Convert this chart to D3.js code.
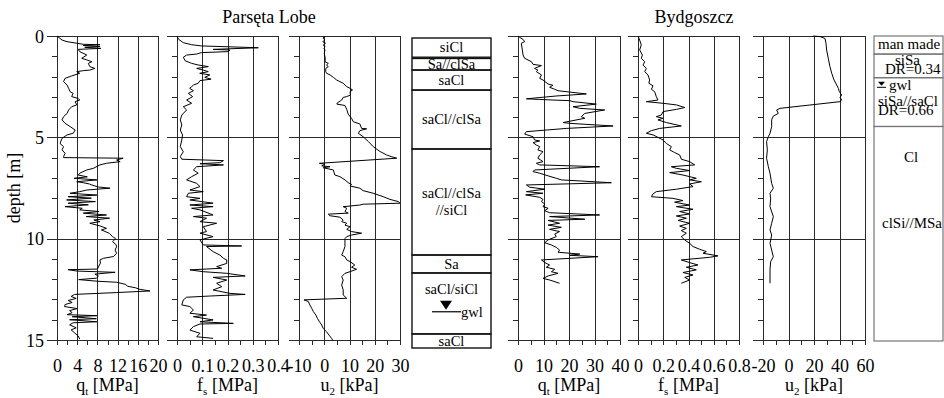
<!DOCTYPE html>
<html>
<head>
<meta charset="utf-8">
<script src="https://cdn.jsdelivr.net/npm/d3@7"></script>
<style>
  body { margin: 0; background: #fff; }
  svg { display: block; font-family: "Liberation Serif", "Times New Roman", serif; }
</style>
</head>
<body>
<svg id="chart" width="944" height="398"></svg>
<script>
// ---------- CPTU soundings: [depth m, value] ----------
const parsetaQt = [
  [0,0],[0.2,1.0],[0.28,2.0],[0.36,4.0],[0.41,5.2],[0.43,8.5],[0.47,5.2],[0.52,8.5],[0.56,5.5],[0.61,8.7],[0.66,4.2],
  [0.77,4.5],[0.94,5.9],[1.1,4.9],[1.18,5.9],[1.27,6.9],[1.35,6.2],[1.51,6.5],[1.6,7.5],[1.68,6.5],[1.71,5.2],[1.76,3.9],
  [1.84,4.5],[1.97,2.9],[2.09,1.6],[2.25,1.3],[2.42,2.0],[2.58,2.3],[2.75,2.6],[2.83,3.2],[2.99,2.9],[3.08,4.2],[3.16,4.5],
  [3.24,3.6],[3.4,3.9],[3.49,2.9],[3.65,2.3],[3.82,2.0],[3.98,1.3],[4.14,1.0],[4.31,1.6],[4.47,2.6],[4.64,3.6],[4.8,3.2],
  [4.88,2.0],[5.05,1.0],[5.3,0.6],[5.46,1.3],[5.62,1.0],[5.79,1.6],[5.95,1.3],[6.0,1.3],[6.03,13.1],[6.12,11.8],[6.2,12.5],
  [6.28,9.8],[6.36,8.5],[6.53,7.2],[6.61,5.9],[6.77,4.5],[6.86,4.2],[6.95,6.0],[7.02,3.4],[7.1,7.9],[7.19,3.9],[7.24,5.2],
  [7.3,6.4],[7.35,6.9],[7.45,8.2],[7.51,10.5],[7.6,5.9],[7.68,4.5],[7.76,2.6],[7.85,7.9],[7.93,2.2],[8.0,6.8],[8.09,1.9],
  [8.17,7.6],[8.25,2.2],[8.33,6.2],[8.42,1.6],[8.5,5.0],[8.58,4.5],[8.66,8.3],[8.74,5.2],[8.83,9.8],[8.91,5.8],[8.99,10.4],
  [9.08,7.3],[9.16,8.5],[9.24,6.5],[9.37,8.5],[9.49,9.8],[9.57,8.8],[9.74,10.4],[9.9,11.0],[10.0,11.6],[10.15,11.0],
  [10.3,11.7],[10.4,11.8],[10.56,11.5],[10.72,11.8],[10.88,11.2],[10.97,9.2],[11.05,8.5],[11.2,8.6],[11.35,8.3],[11.5,8.0],
  [11.53,2.2],[11.6,4.0],[11.66,11.5],[11.75,7.5],[11.85,8.2],[11.95,7.8],[12.02,4.3],[12.1,8.0],[12.15,11.8],[12.25,13.5],
  [12.35,14.0],[12.42,15.5],[12.5,16.4],[12.58,18.4],[12.66,11.8],[12.75,3.5],[12.85,2.8],[12.95,3.8],[13.05,2.2],
  [13.15,3.0],[13.25,1.6],[13.35,1.5],[13.45,4.0],[13.55,2.5],[13.65,3.0],[13.75,2.0],[13.8,7.9],[13.85,3.0],[13.95,7.8],
  [14.0,2.5],[14.1,7.9],[14.15,3.2],[14.25,2.5],[14.4,3.8],[14.5,2.8],[14.65,3.5],[14.8,4.2],[14.95,4.5]
];
const parsetaFs = [
  [0,0],[0.16,0.006],[0.33,0.025],[0.43,0.058],[0.49,0.097],[0.58,0.322],[0.66,0.143],[0.69,0.21],[0.77,0.203],
  [0.82,0.097],[0.89,0.078],[0.94,0.038],[1.05,0.025],[1.22,0.032],[1.35,0.058],[1.43,0.084],[1.51,0.124],[1.6,0.078],
  [1.68,0.104],[1.76,0.124],[1.84,0.09],[1.92,0.13],[2.04,0.11],[2.13,0.135],[2.2,0.091],[2.33,0.084],[2.42,0.065],
  [2.5,0.058],[2.58,0.05],[2.7,0.065],[2.83,0.045],[2.99,0.062],[3.16,0.038],[3.32,0.058],[3.49,0.025],[3.65,0.038],
  [3.9,0.019],[4.14,0.013],[4.39,0.019],[4.64,0.013],[4.88,0.022],[5.13,0.019],[5.46,0.013],[5.71,0.025],[5.95,0.013],
  [6.08,0.019],[6.15,0.184],[6.25,0.17],[6.3,0.091],[6.36,0.184],[6.45,0.078],[6.61,0.065],[6.77,0.084],[6.94,0.058],
  [7.1,0.038],[7.27,0.078],[7.43,0.091],[7.6,0.051],[7.68,0.104],[7.76,0.045],[7.93,0.038],[8.01,0.091],[8.09,0.051],
  [8.25,0.143],[8.34,0.051],[8.42,0.143],[8.5,0.058],[8.58,0.091],[8.83,0.143],[8.91,0.065],[8.99,0.117],[9.16,0.091],
  [9.24,0.157],[9.41,0.104],[9.65,0.117],[9.73,0.091],[9.9,0.143],[10.06,0.091],[10.31,0.104],[10.36,0.256],[10.39,0.117],
  [10.64,0.143],[10.81,0.17],[10.97,0.184],[11.05,0.197],[11.22,0.197],[11.38,0.157],[11.46,0.177],[11.54,0.051],
  [11.63,0.104],[11.71,0.197],[11.84,0.27],[11.91,0.143],[12.04,0.197],[12.2,0.157],[12.37,0.177],[12.53,0.143],
  [12.7,0.21],[12.75,0.27],[12.83,0.13],[12.89,0.038],[13.02,0.025],[13.27,0.019],[13.35,0.051],[13.52,0.065],
  [13.68,0.051],[13.77,0.117],[13.85,0.065],[14.01,0.143],[14.1,0.091],[14.18,0.223],[14.21,0.091],[14.34,0.065],
  [14.51,0.051],[14.67,0.091],[14.84,0.078],[14.92,0.143]
];
const parsetaU2 = [
  [0,0],[0.12,-0.4],[0.2,0.3],[0.28,-0.6],[0.36,0.5],[0.44,-0.4],[0.53,0.3],[0.61,-0.1],[0.69,0.3],[0.86,0.0],[1.1,0.4],
  [1.27,0.3],[1.35,1.6],[1.43,0.9],[1.51,1.6],[1.6,0.6],[1.76,0.6],[1.84,0.9],[1.92,2.3],[2.04,3.6],[2.17,4.9],[2.25,6.2],
  [2.33,7.5],[2.5,8.9],[2.58,10.2],[2.66,11.2],[2.75,10.2],[2.91,10.4],[2.99,8.9],[3.03,7.5],[3.16,6.9],[3.3,5.2],
  [3.36,5.0],[3.43,8.2],[3.62,8.9],[3.86,9.5],[4.06,10.8],[4.23,11.5],[4.34,14.1],[4.56,14.8],[4.58,16.8],[4.67,14.1],
  [4.8,13.5],[4.97,15.4],[5.21,17.5],[5.46,19.4],[5.7,22.1],[5.87,24.7],[5.95,26.5],[6.03,28.7],[6.28,-1.9],[6.33,0.3],
  [6.41,-1.0],[6.45,2.3],[6.5,-0.4],[6.61,3.6],[6.86,4.2],[6.94,6.2],[7.1,8.2],[7.24,9.5],[7.32,10.8],[7.4,10.2],
  [7.51,14.1],[7.63,15.4],[7.76,19.4],[7.93,23.4],[8.06,26.0],[8.17,29.3],[8.25,30.0],[8.3,15.4],[8.34,14.1],[8.39,10.2],
  [8.42,7.5],[8.5,8.9],[8.66,8.2],[8.74,9.5],[8.79,1.6],[8.87,2.3],[8.94,6.2],[9.08,7.5],[9.16,6.9],[9.24,8.9],[9.33,8.2],
  [9.41,10.2],[9.54,8.9],[9.65,10.8],[9.73,14.8],[9.82,10.8],[9.9,8.9],[10.0,8.2],[10.39,8.2],[10.64,7.5],[10.81,6.9],
  [10.89,8.2],[11.05,8.9],[11.13,10.2],[11.3,12.1],[11.41,10.8],[11.51,12.8],[11.63,10.2],[11.71,8.2],[11.88,6.9],
  [12.04,7.5],[12.29,6.9],[12.53,7.5],[12.78,7.5],[12.94,8.9],[13.02,-8.0],[13.1,-6.3],[13.27,-5.7],[13.43,-5.0],
  [13.6,-4.3],[13.77,-3.3],[13.93,-2.7],[14.1,-1.9],[14.26,-1.0],[14.43,-0.4],[14.59,0.9],[14.76,1.9],[14.92,2.9],[15.0,3.3]
];
const bydgoszczQt = [
  [0,0],[0.07,0.7],[0.17,2.0],[0.28,2.6],[0.36,1.3],[0.69,1.7],[0.94,2.0],[1.1,2.6],[1.27,5.3],[1.4,5.9],[1.46,9.2],
  [1.6,6.5],[1.68,7.8],[1.76,7.2],[1.92,9.2],[2.09,8.5],[2.17,9.8],[2.37,11.8],[2.43,13.7],[2.53,12.4],[2.63,14.4],
  [2.7,15.7],[2.86,26.8],[2.96,15.0],[3.1,3.3],[3.13,8.5],[3.16,13.7],[3.19,20.3],[3.24,21.6],[3.36,30.7],[3.49,21.6],
  [3.57,24.2],[3.65,34.0],[3.82,26.2],[3.98,24.8],[4.06,26.2],[4.27,17.7],[4.31,20.3],[4.44,37.3],[4.56,19.0],[4.72,3.3],
  [4.84,2.6],[4.97,5.9],[5.13,6.5],[5.18,8.5],[5.26,5.9],[5.38,7.2],[5.46,8.5],[5.62,7.8],[5.71,9.8],[5.87,8.5],[6.03,7.8],
  [6.2,9.8],[6.28,7.2],[6.36,8.5],[6.45,32.0],[6.61,6.5],[6.69,5.9],[6.77,8.5],[6.9,11.8],[7.02,15.0],[7.1,17.0],
  [7.24,36.6],[7.35,3.3],[7.46,4.6],[7.56,10.5],[7.68,3.3],[7.76,9.8],[7.84,3.0],[7.96,8.5],[8.06,9.8],[8.17,9.2],
  [8.29,10.5],[8.42,9.8],[8.5,11.8],[8.62,10.5],[8.72,12.4],[8.83,32.0],[8.91,12.4],[9.04,26.2],[9.1,11.8],[9.24,16.3],
  [9.33,11.8],[9.44,17.0],[9.54,12.4],[9.65,16.3],[9.77,14.4],[9.9,15.0],[10.06,11.8],[10.2,10.5],[10.31,13.1],
  [10.43,15.0],[10.56,16.3],[10.67,15.7],[10.76,24.2],[10.82,20.3],[10.89,31.4],[11.05,9.2],[11.18,10.5],[11.3,12.4],
  [11.41,11.1],[11.51,14.4],[11.63,13.1],[11.71,15.7],[11.84,11.8],[11.96,9.8],[12.04,12.4],[12.2,16.3]
];
const bydgoszczFs = [
  [0,0],[0.2,0.013],[0.44,0.026],[0.69,0.013],[0.94,0.035],[1.1,0.026],[1.27,0.053],[1.43,0.04],[1.6,0.066],[1.76,0.053],
  [1.92,0.079],[2.17,0.092],[2.33,0.086],[2.46,0.119],[2.63,0.106],[2.75,0.132],[2.99,0.145],[3.16,0.158],[3.24,0.066],
  [3.32,0.198],[3.4,0.304],[3.53,0.37],[3.62,0.304],[3.73,0.198],[3.9,0.185],[3.98,0.145],[4.06,0.198],[4.14,0.158],
  [4.27,0.224],[4.44,0.343],[4.56,0.172],[4.67,0.106],[4.8,0.066],[4.88,0.119],[5.0,0.158],[5.13,0.198],[5.3,0.224],
  [5.46,0.264],[5.62,0.251],[5.75,0.29],[5.87,0.33],[6.08,0.343],[6.2,0.409],[6.36,0.449],[6.45,0.264],[6.53,0.304],
  [6.64,0.409],[6.74,0.251],[6.86,0.356],[7.02,0.462],[7.1,0.409],[7.19,0.502],[7.3,0.409],[7.43,0.436],[7.56,0.304],
  [7.68,0.145],[7.79,0.119],[7.93,0.106],[8.01,0.277],[8.12,0.356],[8.2,0.29],[8.34,0.409],[8.42,0.304],[8.55,0.436],
  [8.66,0.33],[8.78,0.409],[8.88,0.304],[8.99,0.383],[9.1,0.317],[9.24,0.409],[9.38,0.33],[9.49,0.383],[9.6,0.343],
  [9.73,0.383],[9.9,0.343],[10.06,0.37],[10.23,0.409],[10.39,0.436],[10.52,0.488],[10.64,0.541],[10.72,0.515],
  [10.85,0.634],[10.92,0.568],[11.05,0.343],[11.18,0.409],[11.3,0.475],[11.41,0.383],[11.54,0.462],[11.67,0.356],
  [11.79,0.436],[11.91,0.37],[12.04,0.409],[12.2,0.343]
];
const bydgoszczU2 = [
  [0,19.5],[0.03,24.7],[0.12,28.6],[0.36,29.4],[0.69,29.9],[1.1,31.2],[1.51,32.5],[1.84,33.9],[2.17,35.7],[2.42,37.8],
  [2.58,39.1],[2.75,39.9],[2.91,41.7],[3.03,40.4],[3.16,41.7],[3.24,40.4],[3.57,-6.7],[3.65,-9.3],[3.82,-8.0],[3.95,-11.9],
  [4.14,-13.2],[4.47,-13.2],[4.8,-14.5],[4.97,-15.8],[5.21,-17.2],[5.62,-16.6],[6.03,-17.2],[6.45,-15.8],[6.77,-14.5],
  [7.27,-13.2],[7.51,-11.9],[7.76,-14.5],[8.0,-14.0],[8.42,-14.5],[8.91,-11.9],[9.24,-13.2],[9.57,-14.5],[9.82,-13.2],
  [10.23,-14.5],[10.89,-11.9],[11.13,-14.0],[11.54,-14.5],[12.2,-14.5]
];

// ---------- axis ticks ----------
const depthTicks = [0, 5, 10, 15];
const parsetaQtTicks = [0, 4, 8, 12, 16, 20];
const parsetaFsTicks = [0, 0.1, 0.2, 0.3, 0.4];
const parsetaU2Ticks = [-10, 0, 10, 20, 30];
const bydgoszczQtTicks = [0, 10, 20, 30, 40];
const bydgoszczFsTicks = [0, 0.2, 0.4, 0.6, 0.8];
const bydgoszczU2Ticks = [-20, 0, 20, 40, 60];

// ---------- soil profiles ----------
const parsetaLayerTop    = [0, 0.99, 1.55, 2.52, 5.37, 10.5, 11.37, 14.32];
const parsetaLayerBottom = [0.93, 1.55, 2.52, 5.37, 10.5, 11.37, 14.32, 15];
const parsetaLayerNames  = [["siCl"], ["Sa//clSa"], ["saCl"], ["saCl//clSa"], ["saCl//clSa", "//siCl"], ["Sa"], ["saCl/siCl"], ["saCl"]];
const parsetaGwl = 13.15;

const bydgoszczLayerTop    = [0, 0.89, 2.05, 4.45];
const bydgoszczLayerBottom = [0.89, 2.05, 4.45, 15];
const bydgoszczLabels      = ["man made", "siSa", "DR=0.34", "siSa//saCl", "DR=0.66", "Cl", "clSi//MSa"];
const bydgoszczLabelDepth  = [0.66, 1.43, 1.87, 3.44, 3.87, 6.2, 9.45];
const bydgoszczGwl = 2.45;

// ---------- drawing ----------
const svg = d3.select("#chart");
const FONT = 18;
const gridColor = "#2a2a2a";
const depthY = d3.scaleLinear().domain([0, 15]).range([36, 340]);

const panels = [
  { data: parsetaQt,   ticks: parsetaQtTicks,   minorStep: 2,    x0: 57,  x1: 158, sym: "q", sub: "t", unit: " [MPa]", depthLabels: true },
  { data: parsetaFs,   ticks: parsetaFsTicks,   minorStep: 0.05, x0: 177, x1: 278, sym: "f", sub: "s", unit: " [MPa]" },
  { data: parsetaU2,   ticks: parsetaU2Ticks,   minorStep: 5,    x0: 299, x1: 400, sym: "u", sub: "2", unit: " [kPa]" },
  { data: bydgoszczQt, ticks: bydgoszczQtTicks, minorStep: 5,    x0: 518, x1: 620, sym: "q", sub: "t", unit: " [MPa]" },
  { data: bydgoszczFs, ticks: bydgoszczFsTicks, minorStep: 0.1,  x0: 638, x1: 739, sym: "f", sub: "s", unit: " [MPa]" },
  { data: bydgoszczU2, ticks: bydgoszczU2Ticks, minorStep: 10,   x0: 763, x1: 865, sym: "u", sub: "2", unit: " [kPa]" }
];

function styleAxis(g) {
  g.select(".domain").remove();
  g.selectAll("line").attr("stroke", gridColor).attr("shape-rendering", "crispEdges");
  g.selectAll("text").attr("font-family", "Liberation Serif, Times New Roman, serif").attr("font-size", FONT).attr("fill", "#000");
  g.attr("font-family", null).attr("font-size", null);
}

panels.forEach(p => {
  const lo = p.ticks[0], hi = p.ticks[p.ticks.length - 1];
  const x = d3.scaleLinear().domain([lo, hi]).range([p.x0, p.x1]);
  const g = svg.append("g");

  // depth minor ticks (every metre)
  g.append("g").attr("transform", `translate(${p.x0},0)`)
    .call(d3.axisLeft(depthY).tickValues(d3.range(1, 15).filter(d => d % 5 !== 0)).tickSize(5).tickFormat(""))
    .call(styleAxis);

  // depth major lines across the panel, with labels on the first panel
  g.append("g").attr("transform", `translate(${p.x1},0)`)
    .call(d3.axisLeft(depthY).tickValues(depthTicks).tickSize(p.x1 - p.x0 + 10).tickPadding(3)
      .tickFormat(p.depthLabels ? d => String(d) : ""))
    .call(styleAxis)
    .call(a => a.selectAll("text").attr("dy", "0.34em"));

  // vertical grid lines at labelled values
  g.append("g").attr("transform", `translate(0,${depthY(0)})`)
    .call(d3.axisBottom(x).tickValues(p.ticks).tickSize(depthY(15) - depthY(0)).tickFormat(""))
    .call(styleAxis);

  // minor ticks and labels below the panel
  const minor = d3.range(0, Math.round((hi - lo) / p.minorStep) + 1).map(i => lo + i * p.minorStep);
  g.append("g").attr("transform", `translate(0,${depthY(15)})`)
    .call(d3.axisBottom(x).tickValues(minor).tickSize(5).tickFormat(""))
    .call(styleAxis);
  g.append("g").attr("transform", `translate(0,${depthY(15)})`)
    .call(d3.axisBottom(x).tickValues(p.ticks).tickSize(0).tickPadding(19).tickFormat(d => String(d)))
    .call(styleAxis);

  // axis title with subscript
  const t = g.append("text")
    .attr("x", (p.x0 + p.x1) / 2).attr("y", 391)
    .attr("text-anchor", "middle").attr("font-size", FONT);
  t.append("tspan").text(p.sym);
  t.append("tspan").attr("font-size", 11).attr("dy", 4).text(p.sub);
  t.append("tspan").attr("dy", -4).text(p.unit);

  // measured profile
  g.append("path")
    .datum(p.data)
    .attr("fill", "none").attr("stroke", "#000").attr("stroke-width", 1)
    .attr("stroke-linejoin", "round")
    .attr("d", d3.line().x(d => x(d[1])).y(d => depthY(d[0])));
});

// site titles and depth label
svg.append("text").attr("x", 269).attr("y", 23).attr("text-anchor", "middle").attr("font-size", FONT).text("Parsęta Lobe");
svg.append("text").attr("x", 694).attr("y", 23).attr("text-anchor", "middle").attr("font-size", FONT).text("Bydgoszcz");
svg.append("text").attr("transform", "translate(20,188) rotate(-90)").attr("text-anchor", "middle")
  .attr("font-size", FONT).text("depth [m]");

// ---------- Parsęta soil column ----------
const soilL = d3.scaleLinear().domain([0, 15]).range([38, 348]);
const colL = { x0: 412, x1: 491 };
const gl = svg.append("g").attr("font-size", 14.5);
parsetaLayerTop.forEach((top, i) => {
  const bottom = parsetaLayerBottom[i];
  gl.append("rect")
    .attr("x", colL.x0).attr("y", soilL(top))
    .attr("width", colL.x1 - colL.x0).attr("height", soilL(bottom) - soilL(top))
    .attr("fill", "none").attr("stroke", "#111").attr("stroke-width", 1.4);
  const names = parsetaLayerNames[i];
  const hasGwl = parsetaGwl > top && parsetaGwl < bottom;
  const yc = hasGwl ? soilL(top) + 16 : (soilL(top) + soilL(bottom)) / 2;
  names.forEach((n, j) => {
    gl.append("text")
      .attr("x", (colL.x0 + colL.x1) / 2)
      .attr("y", yc + (j - (names.length - 1) / 2) * 17)
      .attr("dy", "0.33em").attr("text-anchor", "middle").text(n);
  });
});
{
  const yg = soilL(parsetaGwl);
  gl.append("path").attr("d", `M440,${yg - 9}L452,${yg - 9}L446,${yg}Z`).attr("fill", "#000");
  gl.append("line").attr("x1", 432).attr("x2", 461).attr("y1", yg + 2).attr("y2", yg + 2)
    .attr("stroke", "#000").attr("stroke-width", 1.2);
  gl.append("text").attr("x", 461).attr("y", yg + 7).text("gwl");
}

// ---------- Bydgoszcz soil column ----------
const soilR = d3.scaleLinear().domain([0, 15]).range([36, 341]);
const colR = { x0: 874, x1: 943 };
// text placement inside the column: [x, anchor]
const labelPlacement = [[878, "start"], [895, "start"], [885, "start"], [878, "start"], [878, "start"], [911, "middle"], [912, "middle"]];
const gr = svg.append("g").attr("font-size", 15);
bydgoszczLayerTop.forEach((top, i) => {
  gr.append("rect")
    .attr("x", colR.x0).attr("y", soilR(top))
    .attr("width", colR.x1 - colR.x0).attr("height", soilR(bydgoszczLayerBottom[i]) - soilR(top))
    .attr("fill", "none").attr("stroke", "#777").attr("stroke-width", 1.2);
});
bydgoszczLabels.forEach((n, i) => {
  gr.append("text")
    .attr("x", labelPlacement[i][0]).attr("text-anchor", labelPlacement[i][1])
    .attr("y", soilR(bydgoszczLabelDepth[i]))
    .text(n);
});
{
  const yg = soilR(bydgoszczGwl);
  gr.append("path").attr("d", `M878,${yg - 4}L885,${yg - 4}L881.5,${yg}Z`).attr("fill", "#000");
  gr.append("line").attr("x1", 877).attr("x2", 886).attr("y1", yg + 1.5).attr("y2", yg + 1.5)
    .attr("stroke", "#000").attr("stroke-width", 1);
  gr.append("text").attr("x", 889).attr("y", yg + 4.5).text("gwl");
}
</script>
</body>
</html>
